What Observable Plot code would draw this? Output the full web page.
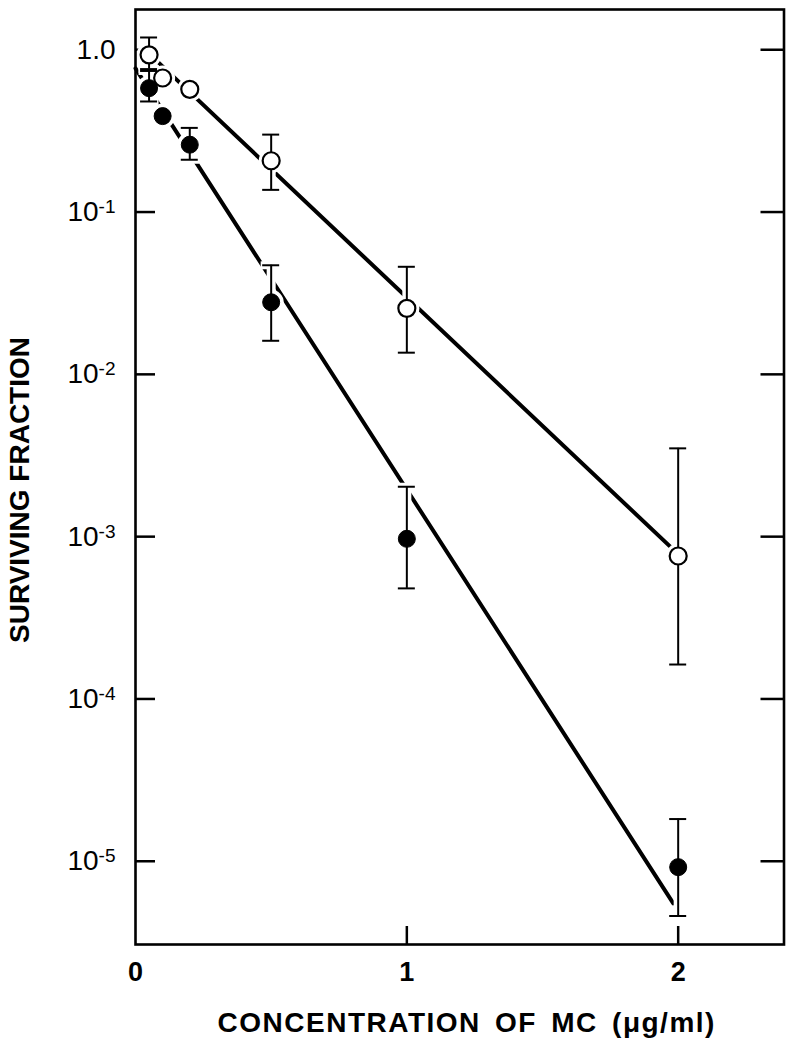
<!DOCTYPE html>
<html><head><meta charset="utf-8">
<script src="https://cdn.jsdelivr.net/npm/d3@7"></script>
<script src="https://cdn.jsdelivr.net/npm/@observablehq/plot@0.6"></script>
<style>html,body{margin:0;padding:0;background:#fff;overflow:hidden}</style>
</head><body><div id="chart"></div>
<script>
// Concentration of MC (µg/ml)
const conc = [0.05, 0.1, 0.2, 0.5, 1, 2];
// open circles
const openFrac = [0.93, 0.67, 0.57, 0.207, 0.0255, 7.6e-4];
const openHigh = [1.19, null, null, 0.30, 0.046, 3.5e-3];
const openLow  = [0.76, null, null, 0.137, 0.0136, 1.63e-4];
// filled circles
const filledFrac = [0.58, 0.39, 0.26, 0.0278, 9.7e-4, 9.2e-6];
const filledHigh = [0.74, null, 0.33, 0.047, 2.03e-3, 1.82e-5];
const filledLow  = [0.48, null, 0.21, 0.0161, 4.8e-4, 4.6e-6];
// fitted lines
const openFitX = [0.05, 2];
const openFitY = [0.946, 7.8e-4];
const filledFitX = [0, 1.982];
const filledFitY = [0.767, 5.5e-6];
// ticks
const xTicks = [0, 1, 2];
const xTickLabels = ["0", "1", "2"];
const yTicks = [1, 1e-1, 1e-2, 1e-3, 1e-4, 1e-5];
const yTickLabels = ["1.0", "10^-1", "10^-2", "10^-3", "10^-4", "10^-5"];
const xLabel = "CONCENTRATION OF MC (\u03BCg/ml)";
const yLabel = "SURVIVING FRACTION";

const W = 796, H = 1050, mL = 135, mR = 12.5, mT = 9, mB = 106;
const plotW = W - mL - mR, plotH = H - mT - mB;

const openRows = conc.map((c, i) => ({x: c, y: openFrac[i], hi: openHigh[i], lo: openLow[i]}));
const filledRows = conc.map((c, i) => ({x: c, y: filledFrac[i], hi: filledHigh[i], lo: filledLow[i]}));
const allRows = openRows.concat(filledRows);
const errRows = allRows.filter(d => d.hi != null);
const capRows = errRows.flatMap(d => [{x: d.x, y: d.hi}, {x: d.x, y: d.lo}]);
const openFit = openFitX.map((x, i) => ({x, y: openFitY[i]}));
const filledFit = filledFitX.map((x, i) => ({x, y: filledFitY[i]}));

const font = "'Liberation Sans', Arial, 'DejaVu Sans', sans-serif";

const chart = Plot.plot({
  width: W, height: H,
  marginLeft: mL, marginRight: mR, marginTop: mT, marginBottom: mB,
  style: {fontFamily: font, background: "white", color: "black"},
  x: {domain: [0, 2.39]},
  y: {type: "log", domain: [3.07e-6, 1.77]},
  marks: [
    // inward ticks
    Plot.tickY(yTicks, {y: d => d, insetRight: plotW - 20, strokeWidth: 2.5, stroke: "black"}),
    Plot.tickY(yTicks, {y: d => d, insetLeft: plotW - 23, strokeWidth: 2.5, stroke: "black"}),
    Plot.tickX([1, 2], {x: d => d, insetTop: plotH - 18, strokeWidth: 2.5, stroke: "black"}),
    // fitted lines
    Plot.line(openFit, {x: "x", y: "y", stroke: "black", strokeWidth: 4}),
    Plot.line(filledFit, {x: "x", y: "y", stroke: "black", strokeWidth: 4}),
    // white halos that break the lines around markers
    Plot.ruleX(errRows, {x: "x", y1: "lo", y2: "hi", stroke: "white", strokeWidth: 9}),
    Plot.ruleY(capRows, {y: "y", x1: "x", x2: "x", insetLeft: -10, insetRight: -10, stroke: "white", strokeWidth: 8}),
    Plot.dot(allRows, {x: "x", y: "y", r: 12.5, fill: "white", stroke: null}),
    // error bars
    Plot.ruleX(errRows, {x: "x", y1: "lo", y2: "hi", stroke: "black", strokeWidth: 2}),
    Plot.ruleY(capRows, {y: "y", x1: "x", x2: "x", insetLeft: -8.5, insetRight: -8.5, stroke: "black", strokeWidth: 2}),
    // markers
    Plot.dot(openRows, {x: "x", y: "y", r: 8.5, fill: "white", stroke: "black", strokeWidth: 2.2}),
    Plot.dot(filledRows, {x: "x", y: "y", r: 8.5, fill: "black", stroke: "black", strokeWidth: 1}),
    Plot.frame({stroke: "black", strokeWidth: 2.6}),
    // tick labels
    Plot.axisY(yTicks, {anchor: "left", tickSize: 0, tickPadding: 20, fontSize: 28, fontWeight: "normal",
      tickFormat: d => yTickLabels[yTicks.indexOf(d)], label: null}),
    Plot.axisX(xTicks, {anchor: "bottom", tickSize: 0, tickPadding: 17, fontSize: 27, fontWeight: "bold",
      tickFormat: d => xTickLabels[xTicks.indexOf(d)], label: null}),
    // axis titles
    Plot.text([yLabel], {text: d => d, frameAnchor: "left", textAnchor: "middle", lineAnchor: "middle",
      dx: -115, dy: 13, rotate: -90, fontSize: 28, fontWeight: "bold"}),
    Plot.text([xLabel], {text: d => d, frameAnchor: "bottom", textAnchor: "middle", lineAnchor: "middle",
      dx: 7, dy: 79, fontSize: 28, fontWeight: "bold"})
  ]
});

// superscript exponents & spacing
chart.querySelectorAll("text").forEach(t => {
  const m = /^10\^(-?\d+)$/.exec(t.textContent);
  if (m) {
    t.textContent = "10";
    const ts = document.createElementNS("http://www.w3.org/2000/svg", "tspan");
    ts.setAttribute("dy", "-0.42em");
    ts.setAttribute("font-size", "0.68em");
    ts.textContent = m[1];
    t.appendChild(ts);
  }
  if (t.textContent === xLabel) {
    t.style.letterSpacing = "1.5px";
    t.style.wordSpacing = "5px";
  }
});

document.getElementById("chart").appendChild(chart);
</script>
</body></html>
